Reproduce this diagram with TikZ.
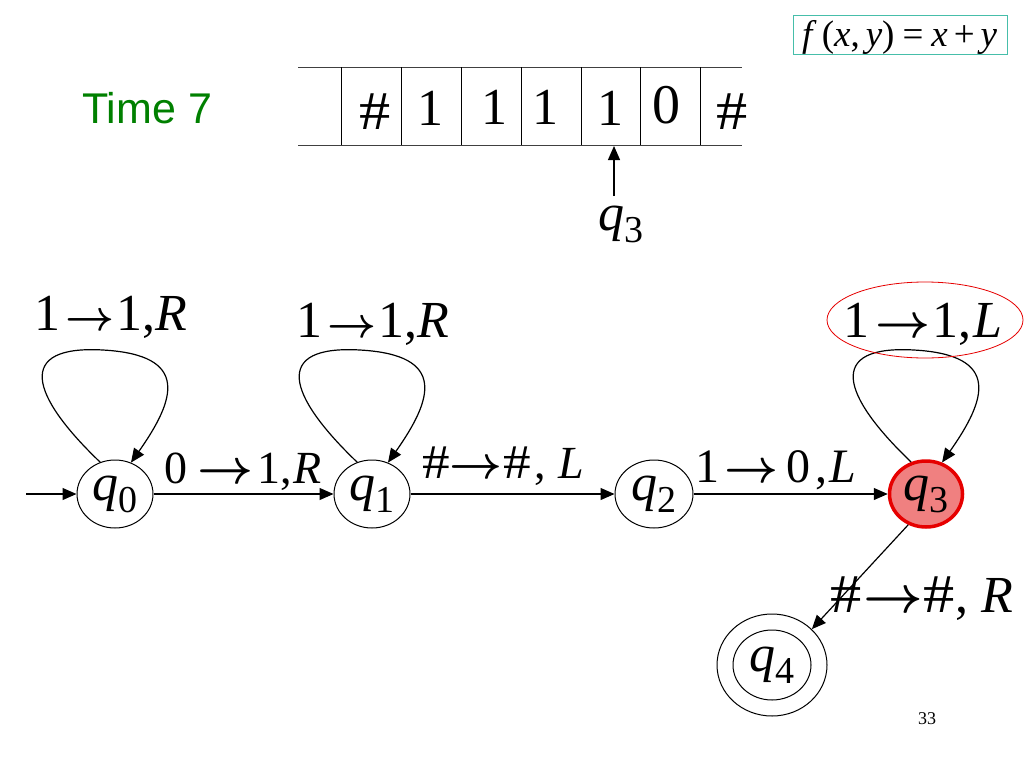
\documentclass[tikz,border=0pt]{standalone}
\usepackage{fontspec}
\setmainfont{Liberation Serif}
\newfontfamily\arialf{Liberation Sans}
\usepackage{graphicx}
\usetikzlibrary{arrows.meta,shapes.geometric,calc}
\definecolor{tgreen}{RGB}{0,128,0}
\definecolor{boxc}{RGB}{70,190,170}
\definecolor{salmon}{RGB}{240,128,128}
\definecolor{rborder}{RGB}{230,0,0}
\newcommand\arw[1]{\resizebox{#1}{!}{\boldmath$\rightarrow$}}
\newcommand\hs{\scalebox{1.2}[1.05]{\#}}
% size, first, arrow width, gap1, gap2, second, gap before comma, gap after comma, letter
\newcommand\lab[9]{\fontsize{#1}{#1}\selectfont #2\hspace{#4}\arw{#3}\hspace{#5}#6\hspace{#7},\hspace{#8}\textit{#9}}
\newcommand\qq[1]{\textit{q}\raisebox{-12pt}{\fontsize{38pt}{38pt}\selectfont #1}}
\newcommand\selfloop[1]{\draw[trans] (#1.115) .. controls ($(#1)+(-85,-99)$) and ($(#1)+(-100,-149)$) .. ($(#1)+(-12,-144)$) .. controls ($(#1)+(76,-139)$) and ($(#1)+(60,-94)$) .. (#1.63);}
\tikzset{
  trans/.style={-{Triangle[length=14pt,width=12pt]}, line width=1.2pt},
  state/.style={ellipse, draw, line width=1pt, minimum width=76pt, minimum height=68pt, inner sep=0pt, font=\fontsize{52pt}{52pt}\selectfont},
  lbl/.style={anchor=base west, inner sep=0pt},
  tapesym/.style={anchor=base west, inner sep=0pt, font=\fontsize{52pt}{52pt}\selectfont},
}
\begin{document}
\begin{tikzpicture}[x=1pt,y=-1pt]
\useasboundingbox (0,0) rectangle (1024,768);
\fill[white] (0,0) rectangle (1024,768);

% title
\node[anchor=base west, inner sep=0pt, text=tgreen, font=\arialf\fontsize{43pt}{43pt}\selectfont] (time) at (82,123) {Time 7};

% formula box
\node[draw=boxc, line width=1pt, minimum width=214pt, minimum height=39pt, inner sep=0pt] (fbox) at (900,35.5) {};
\node[anchor=base west, inner sep=0pt, font=\fontsize{37pt}{37pt}\selectfont] (ftext) at (802,47)
  {\textit{f}\hspace{5pt}(\textit{x},\hspace{6pt}\textit{y})\hspace{8pt}=\hspace{8pt}\textit{x}\hspace{6pt}+\hspace{6pt}\textit{y}};

% tape
\draw[line width=1pt, black!75] (298,67) -- (742,67);
\draw[line width=1pt, black!75] (298,145) -- (742,145);
\foreach \xx in {341,401,461,521,581,640,700} {
  \draw[line width=1pt] (\xx,67) -- (\xx,145);
}
\node[tapesym] (t1) at (359,129) {\hs};
\node[tapesym] (t2) at (417,125) {1};
\node[tapesym] (t3) at (481,124) {1};
\node[tapesym] (t4) at (532,124) {1};
\node[tapesym] (t5) at (597,125) {1};
\node[tapesym, font=\fontsize{56pt}{56pt}\selectfont] (t6) at (652,123) {0};
\node[tapesym] (t7) at (716,129) {\hs};

% head
\node[inner sep=0pt, font=\fontsize{52pt}{52pt}\selectfont] (hq) at (621,224) {\qq{3}};
\coordinate (ht) at (614,196);
\coordinate (hd) at (614,146);
\draw[trans] (ht) -- (hd);

% states
\node[state] (q0) at (115,494) {\qq{0}};
\node[state] (q1) at (372,494) {\qq{1}};
\node[state, minimum width=78pt] (q2) at (654,494) {\qq{2}};
\node[state, minimum width=73pt, minimum height=66pt, fill=salmon, draw=rborder, line width=3.5pt] (q3) at (926,494) {\qq{3}};
\node[state, minimum width=110pt, minimum height=102pt] (q4) at (772,665) {};
\draw[line width=1pt] (q4.center) ellipse (39 and 35);
\node[inner sep=0pt, font=\fontsize{52pt}{52pt}\selectfont] (q4t) at (772,665) {\qq{4}};

% transitions
\coordinate (init) at (26,494);
\draw[trans] (init) -- (q0);
\draw[trans] (q0) -- (q1);
\draw[trans] (q1) -- (q2);
\draw[trans] (q2) -- (q3);
\draw[trans] (q3.240) -- (q4.42);
\selfloop{q0}
\selfloop{q1}
\selfloop{q3}

% labels
\node[lbl] (l0) at (34,330) {\lab{52pt}{1}{49pt}{5pt}{2.5pt}{1}{0pt}{0pt}{R}};
\node[lbl] (l1) at (296,337) {\lab{52pt}{1}{49pt}{5pt}{2.5pt}{1}{0pt}{0pt}{R}};
\node[lbl] (l01) at (164,483) {\lab{46pt}{0}{56pt}{10pt}{4pt}{1}{0pt}{2pt}{R}};
\node[lbl] (l12) at (422,478) {\lab{46pt}{\hs}{52.9pt}{0pt}{1pt}{\hs}{3.4pt}{12.5pt}{L}};
\node[lbl] (l23) at (695,482) {\lab{48pt}{1}{54pt}{5.7pt}{8pt}{0}{5pt}{2pt}{L}};
\node[lbl] (l3) at (843,337) {\lab{52pt}{1}{55pt}{6pt}{2pt}{1}{0pt}{2pt}{L}};
\node[lbl] (l34) at (830,612) {\lab{52pt}{\hs}{59.7pt}{1.7pt}{0.6pt}{\hs}{1pt}{13pt}{R}};

% highlight
\draw[rborder, line width=0.8pt] (925,320) ellipse (98 and 38);

% page number
\node[anchor=base, inner sep=0pt, font=\fontsize{18pt}{18pt}\selectfont] (pg) at (927,724) {33};
\end{tikzpicture}
\end{document}
